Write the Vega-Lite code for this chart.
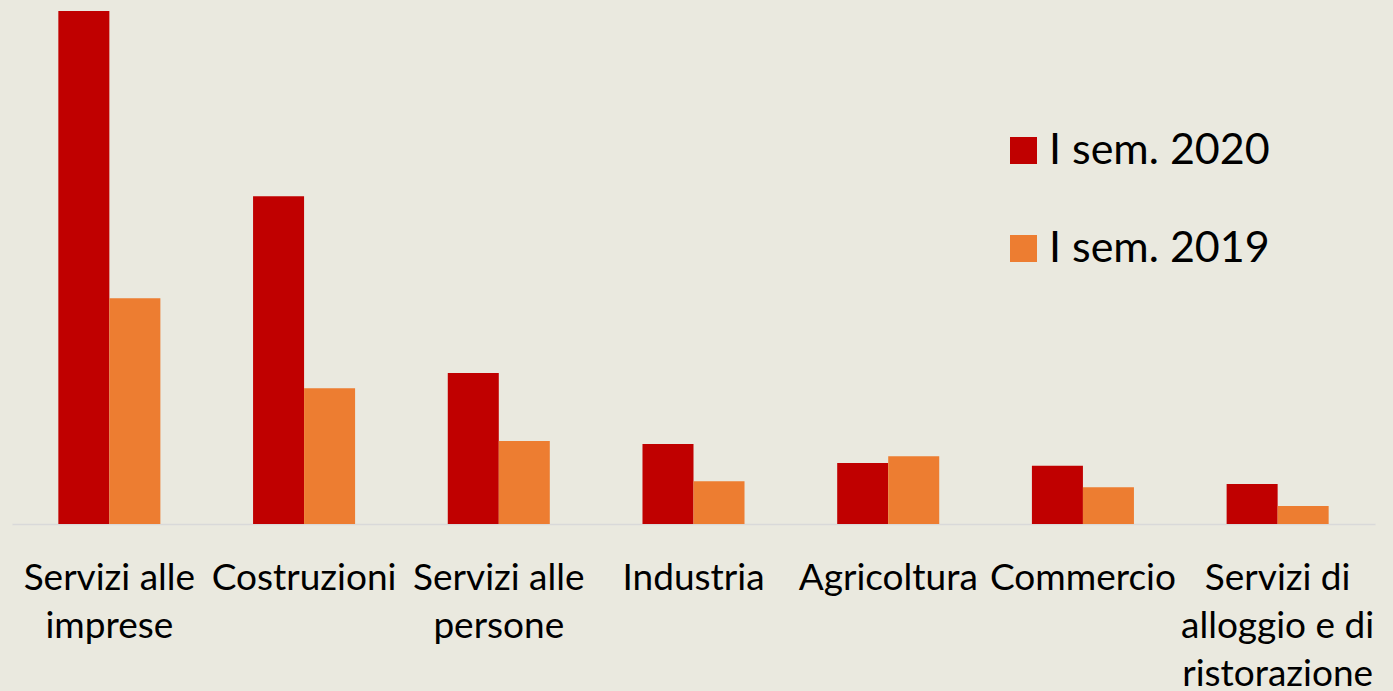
{
  "$schema": "https://vega.github.io/schema/vega-lite/v6.json",
  "autosize": {"type": "none"},
  "width": 1363,
  "height": 513,
  "padding": {"left": 12, "top": 11, "right": 18, "bottom": 167},
  "background": "#EAE9DF",
  "config": {"view": {"stroke": null}, "font": "Lato"},
  "data": {
    "values": [
      {"settore": "Servizi alle|imprese", "periodo": "I sem. 2020", "valore": 513},
      {"settore": "Servizi alle|imprese", "periodo": "I sem. 2019", "valore": 225.7},
      {"settore": "Costruzioni", "periodo": "I sem. 2020", "valore": 327.7},
      {"settore": "Costruzioni", "periodo": "I sem. 2019", "valore": 135.7},
      {"settore": "Servizi alle|persone", "periodo": "I sem. 2020", "valore": 151},
      {"settore": "Servizi alle|persone", "periodo": "I sem. 2019", "valore": 83},
      {"settore": "Industria", "periodo": "I sem. 2020", "valore": 80},
      {"settore": "Industria", "periodo": "I sem. 2019", "valore": 42.7},
      {"settore": "Agricoltura", "periodo": "I sem. 2020", "valore": 61},
      {"settore": "Agricoltura", "periodo": "I sem. 2019", "valore": 67.7},
      {"settore": "Commercio", "periodo": "I sem. 2020", "valore": 58.3},
      {"settore": "Commercio", "periodo": "I sem. 2019", "valore": 36.7},
      {"settore": "Servizi di|alloggio e di|ristorazione", "periodo": "I sem. 2020", "valore": 40},
      {"settore": "Servizi di|alloggio e di|ristorazione", "periodo": "I sem. 2019", "valore": 18}
    ]
  },
  "mark": {"type": "bar"},
  "encoding": {
    "x": {
      "field": "settore",
      "type": "nominal",
      "sort": null,
      "scale": {"paddingInner": 0.476, "paddingOuter": 0.238},
      "axis": {
        "title": null,
        "labelAngle": 0,
        "labelExpr": "split(datum.label, '|')",
        "labelFontSize": 37,
        "labelFont": "Lato",
        "labelColor": "#000000",
        "labelLineHeight": 48,
        "labelPadding": 65,
        "labelBaseline": "alphabetic",
        "ticks": false,
        "domainColor": "#D9D9D9",
        "domainWidth": 1.5,
        "labelOverlap": false,
        "labelLimit": 0
      }
    },
    "xOffset": {
      "field": "periodo",
      "type": "nominal",
      "sort": ["I sem. 2020", "I sem. 2019"],
      "scale": {"paddingInner": 0, "paddingOuter": 0}
    },
    "y": {
      "field": "valore",
      "type": "quantitative",
      "scale": {"domain": [0, 513], "nice": false},
      "axis": null
    },
    "color": {
      "field": "periodo",
      "type": "nominal",
      "scale": {"domain": ["I sem. 2020", "I sem. 2019"], "range": ["#C00000", "#ED7D31"]},
      "legend": {
        "title": null,
        "orient": "none",
        "legendX": 990,
        "legendY": 118,
        "padding": 0,
        "symbolType": "square",
        "symbolSize": 729,
        "symbolStrokeWidth": 0,
        "symbolOpacity": 1,
        "labelFontSize": 43,
        "labelFont": "Lato",
        "labelColor": "#000000",
        "labelOffset": 4,
        "rowPadding": 54,
        "labelLimit": 0
      }
    }
  }
}
